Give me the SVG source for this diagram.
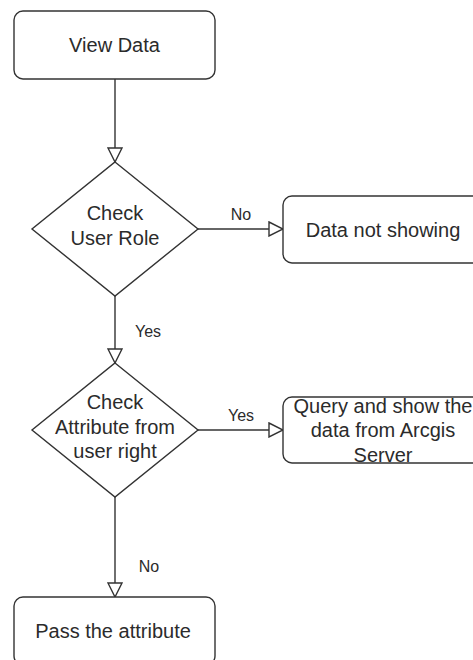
<svg xmlns="http://www.w3.org/2000/svg" width="473" height="660" viewBox="0 0 473 660">
  <defs>
    <style>
      .shape { fill: #ffffff; stroke: #333333; stroke-width: 1.4; }
      .edge { fill: none; stroke: #333333; stroke-width: 1.4; }
      .txt { font-family: "Liberation Sans", Arial, Helvetica, sans-serif; font-size: 20px; fill: #2b2b2b; text-anchor: middle; }
      .lbl { font-family: "Liberation Sans", Arial, Helvetica, sans-serif; font-size: 16px; fill: #2b2b2b; text-anchor: middle; }
    </style>
    <marker id="open-arrow" viewBox="0 0 16 16" refX="15" refY="8" markerWidth="16" markerHeight="16" markerUnits="userSpaceOnUse" orient="auto">
      <path d="M1,1 L15,8 L1,15 Z" fill="#ffffff" stroke="#333333" stroke-width="1.4" stroke-linejoin="miter"/>
    </marker>
  </defs>
  <rect width="473" height="660" fill="#ffffff"/>

  <g id="connectors">
    <path class="edge" d="M115,79 L115,162" marker-end="url(#open-arrow)"/>
    <path class="edge" d="M198,229 L283,229" marker-end="url(#open-arrow)"/>
    <text class="lbl" x="241" y="220">No</text>
    <path class="edge" d="M115,296 L115,363" marker-end="url(#open-arrow)"/>
    <text class="lbl" x="148" y="337">Yes</text>
    <path class="edge" d="M198,430 L283,430" marker-end="url(#open-arrow)"/>
    <text class="lbl" x="241" y="421">Yes</text>
    <path class="edge" d="M115,497 L115,597" marker-end="url(#open-arrow)"/>
    <text class="lbl" x="149" y="572">No</text>
  </g>

  <g id="view-data">
    <rect class="shape" x="14" y="11" width="201" height="68" rx="9" ry="9"/>
    <text class="txt" x="114.5" y="52">View Data</text>
  </g>

  <g id="check-user-role">
    <polygon class="shape" points="115,162 198,229 115,296 32,229"/>
    <text class="txt" x="115" y="220">Check</text>
    <text class="txt" x="115" y="245">User Role</text>
  </g>

  <g id="data-not-showing">
    <rect class="shape" x="283" y="196" width="201" height="67" rx="9" ry="9"/>
    <text class="txt" x="383" y="237">Data not showing</text>
  </g>

  <g id="check-attribute">
    <polygon class="shape" points="115,363 198,430 115,497 32,430"/>
    <text class="txt" x="115" y="409">Check</text>
    <text class="txt" x="115" y="434">Attribute from</text>
    <text class="txt" x="115" y="458">user right</text>
  </g>

  <g id="query-arcgis">
    <rect class="shape" x="283" y="397" width="201" height="66" rx="9" ry="9"/>
    <text class="txt" x="383" y="413">Query and show the</text>
    <text class="txt" x="383" y="437">data from Arcgis</text>
    <text class="txt" x="383" y="462">Server</text>
  </g>

  <g id="pass-attribute">
    <rect class="shape" x="14" y="597" width="201" height="68" rx="9" ry="9"/>
    <text class="txt" x="113" y="638">Pass the attribute</text>
  </g>
</svg>
